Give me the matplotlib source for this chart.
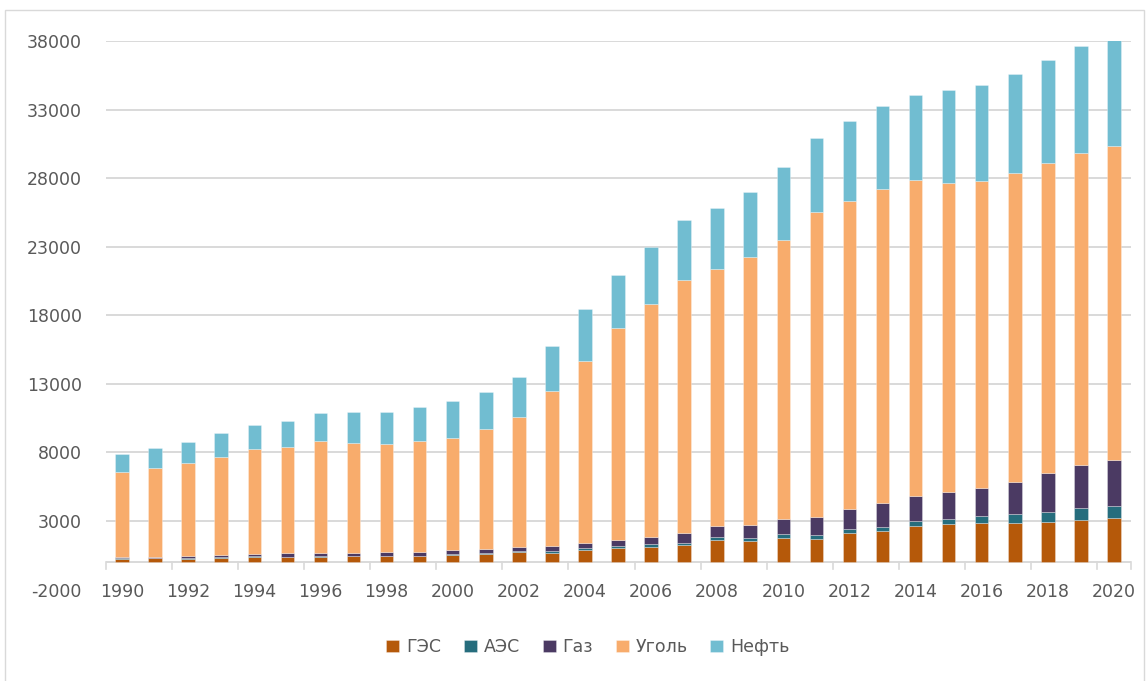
import matplotlib
matplotlib.use("Agg")
import matplotlib.pyplot as plt
from matplotlib.patches import Rectangle
import numpy as np

plt.rcParams['font.family'] = ['DejaVu Sans']

years = list(range(1990, 2021))
year_labels = [str(y) if (y - 1990) % 2 == 0 else "" for y in years]

series_names = ["ГЭС", "АЭС", "Газ", "Уголь", "Нефть"]
colors = ["#B5590A", "#266D7D", "#4B3A63", "#F8AC6C", "#71BDD1"]

hydro = [260, 270, 260, 320, 390, 370, 380, 420, 420, 430, 510, 610, 720, 690, 900, 1000,
         1100, 1250, 1620, 1550, 1790, 1700, 2150, 2270, 2630, 2760, 2850, 2850, 2930, 3100, 3190]
nuclear = [25, 25, 25, 25, 25, 40, 40, 40, 50, 50, 60, 60, 70, 90, 120, 170,
           200, 170, 245, 200, 250, 260, 270, 290, 370, 410, 510, 630, 730, 850, 930]
gas = [120, 100, 160, 170, 190, 270, 260, 230, 240, 230, 290, 300, 280, 390, 390, 460,
       540, 710, 790, 960, 1100, 1350, 1490, 1730, 1850, 1980, 2070, 2390, 2830, 3120, 3320]
coal = [6195, 6485, 6775, 7185, 7655, 7720, 8140, 7980, 7890, 8160, 8220, 8720, 9500, 11290, 13240, 15440,
        16960, 18440, 18715, 19560, 20330, 22190, 22460, 22930, 22980, 22510, 22370, 22470, 22600, 22750, 22890]
oil = [1320, 1430, 1530, 1750, 1750, 1920, 2060, 2260, 2350, 2450, 2650, 2700, 2930, 3280, 3780, 3890,
       4170, 4370, 4440, 4710, 5310, 5460, 5780, 6020, 6240, 6750, 6990, 7280, 7520, 7790, 7770]

data = [hydro, nuclear, gas, coal, oil]

W, H = 1147, 681
fig = plt.figure(figsize=(W / 100, H / 100), dpi=100)

left, right = 105.5 / W, 1130.5 / W
bottom, top = 1 - 589.6 / H, 1 - 41 / H
ax = fig.add_axes([left, bottom, right - left, top - bottom])

x = np.arange(len(years))
base = np.zeros(len(years))
handles = []
for name, vals, c in zip(series_names, data, colors):
    v = np.array(vals, dtype=float)
    b = ax.bar(x, v, width=0.41, bottom=base, color=c, edgecolor=(1, 1, 1, 0.35),
               linewidth=0.6, label=name, zorder=3)
    handles.append(b)
    base += v

ax.set_xlim(-0.5, len(years) - 0.5)
ax.set_ylim(-2000, 38000)
yt = list(range(-2000, 38001, 5000))
ax.set_yticks(yt)
ax.set_yticklabels([str(v) for v in yt])
ax.yaxis.grid(True, color="#D9D9D9", linewidth=1.4, zorder=0)
ax.set_axisbelow(True)
for gl, v in zip(ax.get_ygridlines(), yt):
    if v < 0:
        gl.set_visible(False)

for s in ax.spines.values():
    s.set_visible(False)

ax.tick_params(axis='y', length=0, pad=17, labelsize=12.5, labelcolor="#595959")
ax.set_xticks([])

# category axis at zero
ax.axhline(0, color="#D9D9D9", linewidth=1.4, zorder=2)
for k in np.arange(-0.5, len(years), 2.0):
    ax.plot([k, k], [0, -480], color="#D9D9D9", linewidth=1.2, zorder=2, clip_on=False)
ax.plot([len(years) - 0.5] * 2, [0, -480], color="#D9D9D9", linewidth=1.2, zorder=2, clip_on=False)

for i, lab in zip(x, year_labels):
    if lab:
        ax.text(i, -2150, lab, ha='center', va='center', fontsize=12.5, color="#595959",
                clip_on=False)

leg = fig.legend(handles, series_names, loc='center', bbox_to_anchor=(588 / W, 1 - 647 / H),
                 ncol=5, frameon=False, fontsize=12.5, handlelength=0.75, handleheight=0.75,
                 handletextpad=0.4, columnspacing=1.3, labelcolor="#595959")

# chart area border
fig.patches.append(Rectangle((5 / W, -0.02), (1144 - 5) / W, 1 - 10 / H + 0.02,
                             transform=fig.transFigure, fill=False, edgecolor="#D9D9D9",
                             linewidth=1.0))

fig.savefig("out.png", dpi=100)
